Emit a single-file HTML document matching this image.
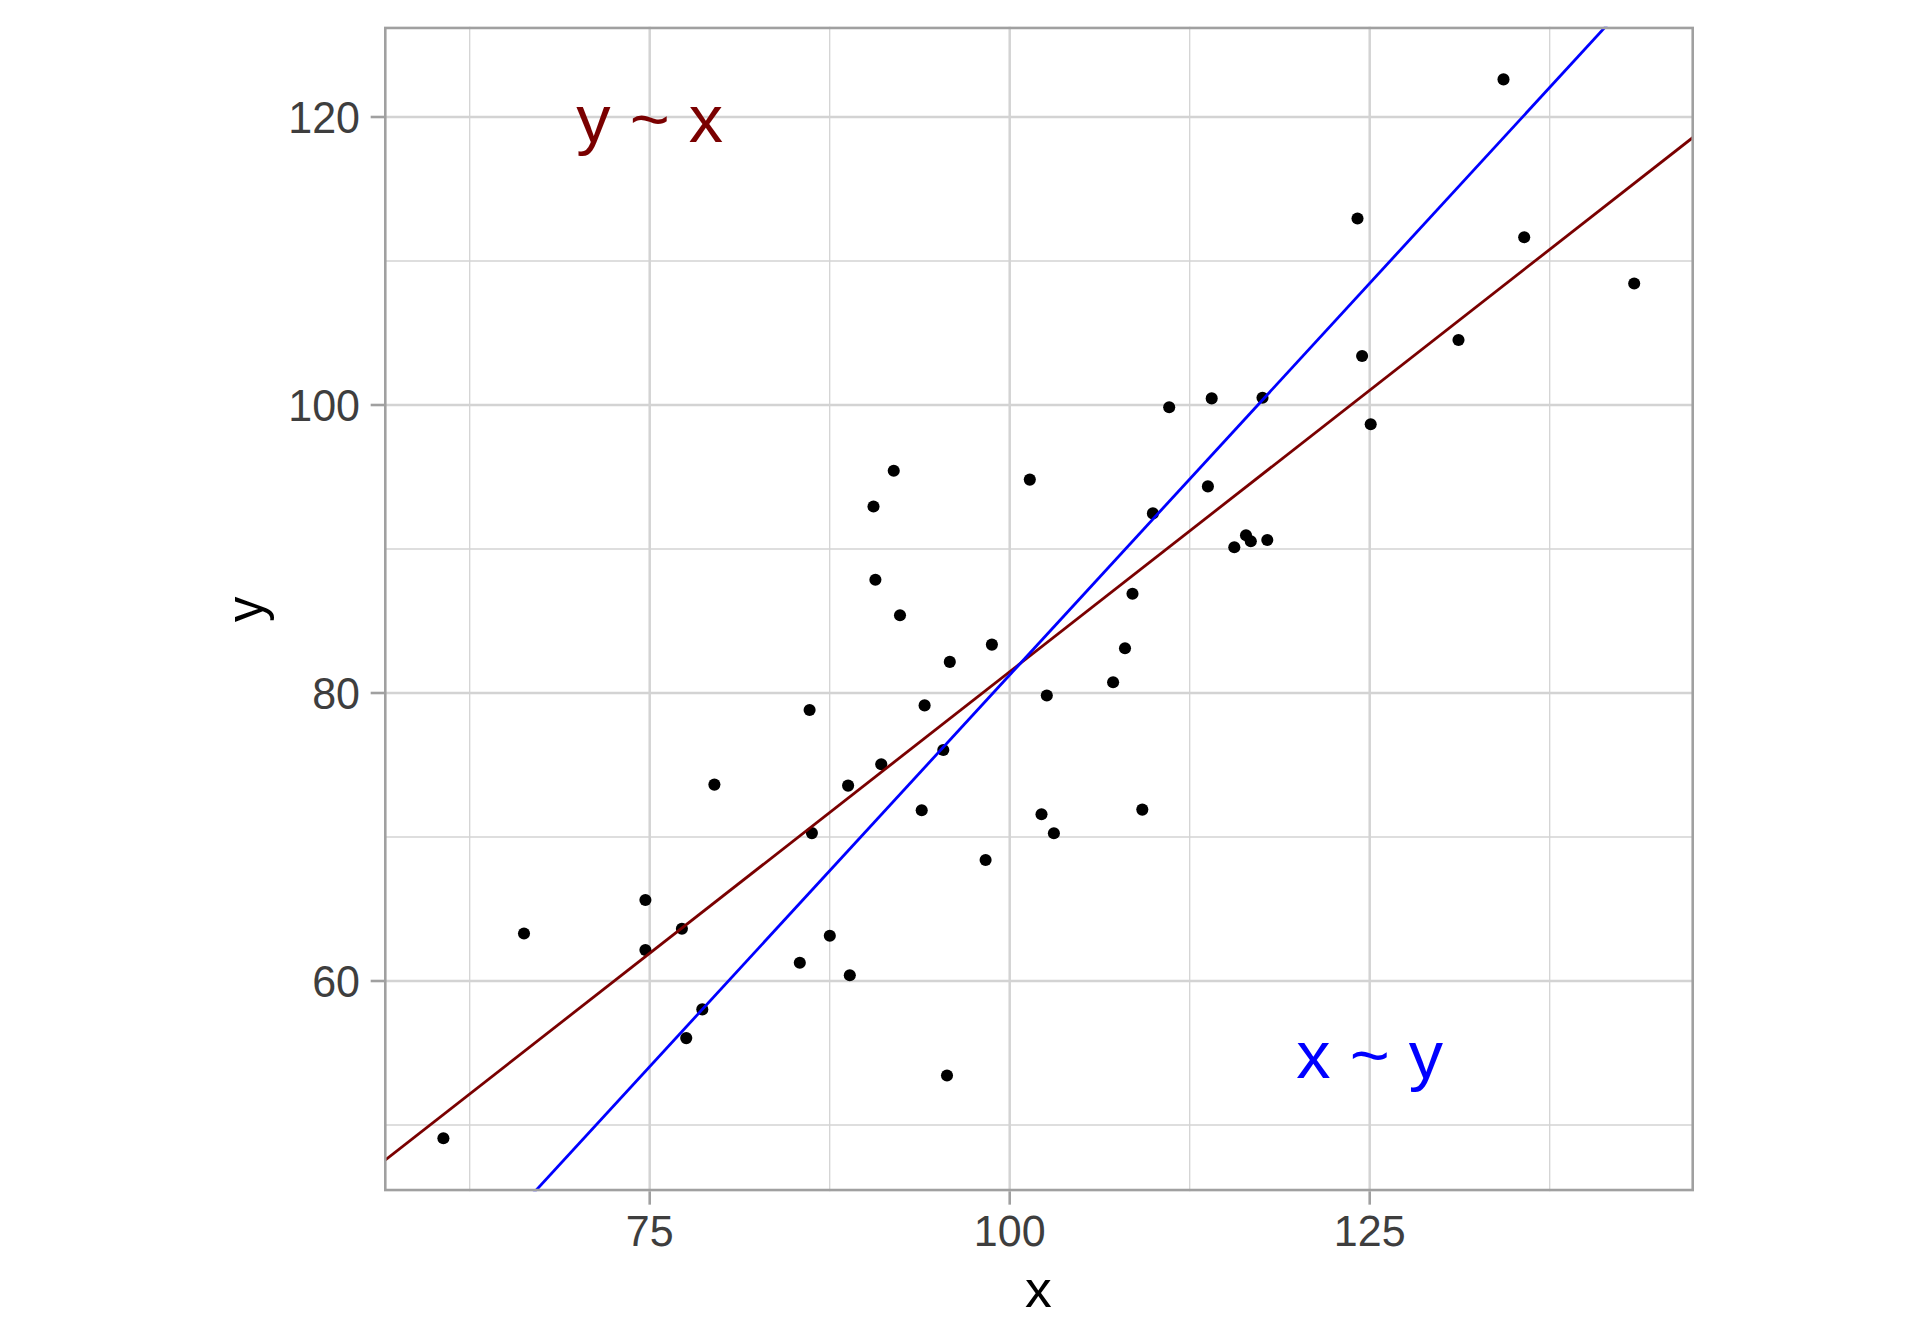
<!DOCTYPE html>
<html lang="en"><head><meta charset="utf-8"><title>Regression of y on x and x on y</title>
<style>html,body{margin:0;padding:0;background:#fff;}body{width:1920px;height:1344px;overflow:hidden;}svg{display:block;}text{font-family:"Liberation Sans",Arial,Helvetica,sans-serif;}</style></head><body>
<svg width="1920" height="1344" viewBox="0 0 1920 1344">
<rect x="0" y="0" width="1920" height="1344" fill="#ffffff"/>
<defs><clipPath id="panel"><rect x="384.00" y="26.67" width="1310.00" height="1164.66"/></clipPath></defs>
<g stroke="#d3d3d3" stroke-width="1.29" fill="none">
<line x1="384.00" y1="1125.00" x2="1694.00" y2="1125.00"/>
<line x1="384.00" y1="837.00" x2="1694.00" y2="837.00"/>
<line x1="384.00" y1="549.00" x2="1694.00" y2="549.00"/>
<line x1="384.00" y1="261.00" x2="1694.00" y2="261.00"/>
<line x1="469.70" y1="26.67" x2="469.70" y2="1191.33"/>
<line x1="829.70" y1="26.67" x2="829.70" y2="1191.33"/>
<line x1="1189.70" y1="26.67" x2="1189.70" y2="1191.33"/>
<line x1="1549.70" y1="26.67" x2="1549.70" y2="1191.33"/>
</g>
<g stroke="#d3d3d3" stroke-width="2.5" fill="none">
<line x1="384.00" y1="981.00" x2="1694.00" y2="981.00"/>
<line x1="384.00" y1="693.00" x2="1694.00" y2="693.00"/>
<line x1="384.00" y1="405.00" x2="1694.00" y2="405.00"/>
<line x1="384.00" y1="117.00" x2="1694.00" y2="117.00"/>
<line x1="649.70" y1="26.67" x2="649.70" y2="1191.33"/>
<line x1="1009.70" y1="26.67" x2="1009.70" y2="1191.33"/>
<line x1="1369.70" y1="26.67" x2="1369.70" y2="1191.33"/>
</g>
<g fill="#000000">
<circle cx="443.40" cy="1138.30" r="6.05"/>
<circle cx="524.00" cy="933.50" r="6.05"/>
<circle cx="645.40" cy="900.00" r="6.05"/>
<circle cx="645.40" cy="950.00" r="6.05"/>
<circle cx="681.90" cy="928.75" r="6.05"/>
<circle cx="686.25" cy="1038.10" r="6.05"/>
<circle cx="702.30" cy="1009.40" r="6.05"/>
<circle cx="714.40" cy="784.60" r="6.05"/>
<circle cx="799.80" cy="962.70" r="6.05"/>
<circle cx="809.60" cy="710.00" r="6.05"/>
<circle cx="811.90" cy="833.10" r="6.05"/>
<circle cx="829.80" cy="935.80" r="6.05"/>
<circle cx="848.10" cy="785.60" r="6.05"/>
<circle cx="849.80" cy="975.20" r="6.05"/>
<circle cx="873.50" cy="506.50" r="6.05"/>
<circle cx="875.40" cy="579.80" r="6.05"/>
<circle cx="881.25" cy="764.20" r="6.05"/>
<circle cx="893.75" cy="470.80" r="6.05"/>
<circle cx="900.00" cy="615.20" r="6.05"/>
<circle cx="921.70" cy="810.20" r="6.05"/>
<circle cx="924.60" cy="705.40" r="6.05"/>
<circle cx="943.30" cy="750.00" r="6.05"/>
<circle cx="947.00" cy="1075.50" r="6.05"/>
<circle cx="949.80" cy="661.90" r="6.05"/>
<circle cx="985.60" cy="860.00" r="6.05"/>
<circle cx="991.90" cy="644.60" r="6.05"/>
<circle cx="1029.80" cy="479.60" r="6.05"/>
<circle cx="1041.50" cy="814.20" r="6.05"/>
<circle cx="1046.80" cy="695.50" r="6.05"/>
<circle cx="1053.90" cy="833.30" r="6.05"/>
<circle cx="1113.10" cy="682.30" r="6.05"/>
<circle cx="1125.00" cy="648.30" r="6.05"/>
<circle cx="1132.50" cy="593.75" r="6.05"/>
<circle cx="1142.30" cy="809.60" r="6.05"/>
<circle cx="1152.90" cy="513.40" r="6.05"/>
<circle cx="1169.20" cy="407.30" r="6.05"/>
<circle cx="1207.90" cy="486.40" r="6.05"/>
<circle cx="1211.70" cy="398.40" r="6.05"/>
<circle cx="1234.30" cy="547.20" r="6.05"/>
<circle cx="1246.00" cy="535.20" r="6.05"/>
<circle cx="1250.80" cy="541.25" r="6.05"/>
<circle cx="1262.50" cy="397.70" r="6.05"/>
<circle cx="1267.30" cy="540.00" r="6.05"/>
<circle cx="1357.50" cy="218.50" r="6.05"/>
<circle cx="1362.10" cy="356.00" r="6.05"/>
<circle cx="1370.70" cy="424.20" r="6.05"/>
<circle cx="1458.50" cy="340.00" r="6.05"/>
<circle cx="1503.50" cy="79.40" r="6.05"/>
<circle cx="1524.20" cy="237.30" r="6.05"/>
<circle cx="1634.20" cy="283.50" r="6.05"/>
</g>
<g clip-path="url(#panel)" fill="none" stroke-width="2.8">
<line stroke="#7a0000" x1="374.00" y1="1168.81" x2="1704.00" y2="128.83"/>
<line stroke="#0000ff" x1="525.89" y1="1201.33" x2="1614.73" y2="16.67"/>
</g>
<text transform="translate(649.70,141.90) scale(1,0.982)" font-size="68.6" fill="#7a0000" text-anchor="middle">y ~ x</text>
<text transform="translate(1369.70,1078.15) scale(1,0.982)" font-size="68.6" fill="#0000ff" text-anchor="middle">x ~ y</text>
<rect x="385.29" y="27.96" width="1307.41" height="1162.07" fill="none" stroke="#a0a0a0" stroke-width="2.586"/>
<g stroke="#a0a0a0" stroke-width="2.586" fill="none">
<line x1="370.67" y1="981.00" x2="384.00" y2="981.00"/>
<line x1="370.67" y1="693.00" x2="384.00" y2="693.00"/>
<line x1="370.67" y1="405.00" x2="384.00" y2="405.00"/>
<line x1="370.67" y1="117.00" x2="384.00" y2="117.00"/>
<line x1="649.70" y1="1191.33" x2="649.70" y2="1204.66"/>
<line x1="1009.70" y1="1191.33" x2="1009.70" y2="1204.66"/>
<line x1="1369.70" y1="1191.33" x2="1369.70" y2="1204.66"/>
</g>
<g font-size="43.0" fill="#3e3e3e">
<text transform="translate(360.00,996.90) scale(1,1.03)" text-anchor="end">60</text>
<text transform="translate(360.00,708.90) scale(1,1.03)" text-anchor="end">80</text>
<text transform="translate(360.00,420.90) scale(1,1.03)" text-anchor="end">100</text>
<text transform="translate(360.00,132.90) scale(1,1.03)" text-anchor="end">120</text>
<text transform="translate(649.70,1245.90) scale(1,1.015)" text-anchor="middle" text-rendering="geometricPrecision">75</text>
<text transform="translate(1009.70,1245.90) scale(1,1.015)" text-anchor="middle" text-rendering="geometricPrecision">100</text>
<text transform="translate(1369.70,1245.90) scale(1,1.015)" text-anchor="middle" text-rendering="geometricPrecision">125</text>
</g>
<text transform="translate(1038.30,1307.10) scale(1,0.982)" font-size="53.5" fill="#000000" text-anchor="middle">x</text>
<text transform="translate(263.40,609.40) rotate(-90) scale(0.95,1.0)" font-size="53.5" fill="#000000" text-anchor="middle">y</text>
</svg></body></html>
